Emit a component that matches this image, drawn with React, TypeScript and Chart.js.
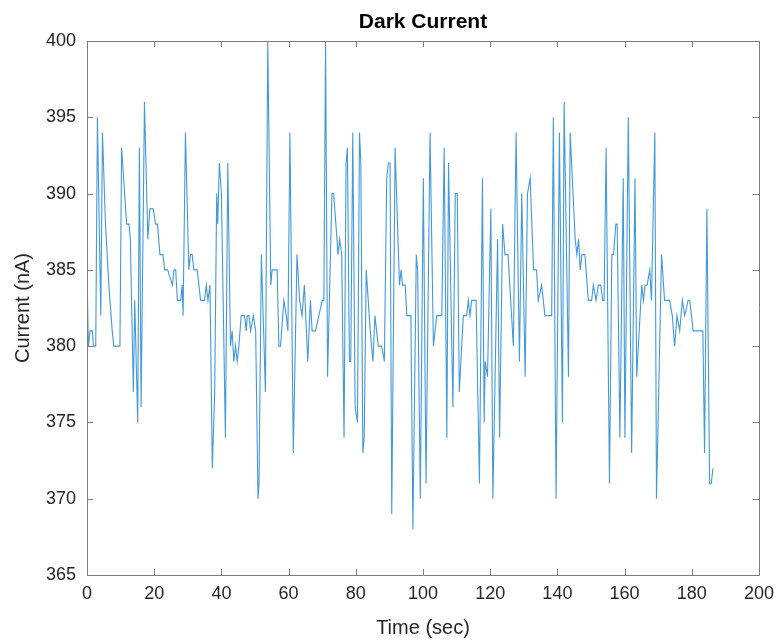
import React, { useEffect, useRef } from "react";
import { Chart, registerables } from "chart.js";

Chart.register(...registerables);

const times: number[] = [
  0, 0.4, 0.9, 1.6, 1.9, 2.6, 3.1, 4.1, 4.6, 5.5, 6.5, 7.5, 8.0, 9.8, 10.3, 11.8, 12.5, 12.9, 13.8, 14.2,
  15.1, 15.6, 16.1, 17.1, 18.1, 18.7, 19.7, 20.4, 21.0, 21.7, 22.6, 23.1, 24.0, 25.4, 25.9, 26.4, 26.9, 27.9, 28.3, 28.6,
  29.3, 30.3, 30.8, 31.3, 31.8, 32.8, 33.8, 35.0, 35.5, 36.0, 36.6, 37.3, 38.0, 38.6, 38.9, 39.4, 40.0, 41.2, 41.9, 42.7,
  43.2, 43.7, 44.2, 44.7, 45.2, 45.9, 46.9, 47.4, 47.7, 48.2, 48.7, 49.5, 50.2, 50.9, 51.2, 51.9, 53.1, 53.8, 54.7, 55.1,
  56.6, 57.1, 57.6, 58.6, 59.3, 59.8, 60.4, 61.4, 62.5, 63.3, 64.0, 64.7, 65.7, 66.5, 67.0, 68.0, 69.0, 70.0, 70.5, 71.0,
  71.6, 72.9, 73.4, 74.4, 74.7, 75.2, 75.8, 76.5, 77.1, 77.5, 78.1, 78.5, 79.1, 79.8, 80.5, 81.1, 81.5, 82.1, 82.5, 83.1,
  84.3, 85.1, 85.7, 86.2, 86.7, 87.7, 88.5, 89.2, 89.7, 90.2, 90.7, 91.7, 93.0, 93.5, 93.9, 94.7, 95.2, 96.4, 97.0, 98.0,
  98.4, 99.2, 100.1, 100.9, 102.1, 103.1, 104.1, 105.6, 106.3, 107.1, 107.6, 108.9, 109.6, 110.2, 110.8, 112.0, 113.0, 113.5, 114.0, 114.5,
  115.8, 116.8, 117.7, 118.2, 118.5, 119.2, 120.2, 120.8, 122.2, 122.8, 123.7, 124.4, 125.3, 126.9, 127.7, 128.7, 129.4, 130.4, 131.1, 131.9,
  132.9, 133.8, 134.3, 135.3, 136.3, 138.3, 138.8, 139.6, 140.6, 141.5, 142.0, 143.3, 143.8, 145.3, 145.8, 146.3, 146.8, 147.3, 148.2, 149.2,
  150.2, 150.7, 151.5, 152.2, 152.9, 153.5, 153.9, 154.5, 155.5, 156.2, 156.7, 157.4, 157.8, 158.6, 159.6, 160.1, 161.1, 162.1, 163.1, 163.6,
  165.1, 165.6, 166.1, 166.7, 167.5, 168.0, 169.0, 169.5, 171.0, 171.9, 173.4, 174.2, 174.9, 175.6, 176.4, 177.2, 177.9, 178.9, 179.4, 180.4,
  183.3, 183.8, 184.5, 185.3, 185.8, 186.3,
];

const currents: number[] = [
  385, 380, 381, 381, 380, 380, 395, 382, 394, 388, 384, 381, 380, 380, 393, 388, 388, 387, 377, 383,
  375, 393, 376, 396, 387, 389, 389, 388, 388, 386, 386, 385, 385, 384, 385, 385, 383, 383, 384, 382,
  394, 385, 386, 386, 385, 385, 383, 383, 384, 383, 384, 372, 377, 390, 388, 392, 390, 374, 392, 380,
  381, 379, 380, 379, 380, 382, 382, 381, 382, 382, 381, 382, 381, 370, 371, 386, 377, 400, 384, 385,
  385, 380, 380, 383, 382, 381, 394, 373, 386, 383, 382, 384, 379, 383, 381, 381, 382, 383, 383, 400,
  378, 390, 390, 387, 386, 387, 386, 374, 392, 393, 379, 379, 394, 376, 375, 394, 392, 373, 374, 385,
  381, 379, 382, 381, 380, 380, 379, 391, 392, 392, 369, 393, 384, 385, 384, 384, 382, 382, 368, 386,
  385, 370, 391, 371, 394, 380, 382, 382, 393, 374, 392, 376, 390, 390, 377, 382, 382, 383, 382, 383,
  383, 371, 391, 375, 379, 378, 389, 370, 387, 374, 388, 386, 386, 380, 394, 379, 390, 378, 390, 391,
  385, 385, 383, 384, 382, 382, 395, 370, 394, 375, 396, 378, 394, 387, 386, 387, 385, 386, 386, 383,
  383, 384, 383, 384, 384, 383, 383, 393, 371, 386, 386, 388, 388, 374, 391, 374, 395, 373, 391, 378,
  384, 383, 384, 384, 385, 383, 394, 370, 386, 383, 383, 382, 380, 382, 381, 383, 382, 383, 383, 381,
  381, 373, 389, 371, 371, 372,
];

const xTicks: number[] = [0, 20, 40, 60, 80, 100, 120, 140, 160, 180, 200];
const yTicks: number[] = [365, 370, 375, 380, 385, 390, 395, 400];

const chartTitle = "Dark Current";
const xLabel = "Time (sec)";
const yLabel = "Current (nA)";

const FONT = "'Liberation Sans', Arial, Helvetica, sans-serif";
const AXIS_COLOR = "#7d7d7d";
const TEXT_COLOR = "#262626";

const boxTicksPlugin = {
  id: "boxTicks",
  afterDraw(chart: any) {
    const { ctx, chartArea } = chart;
    const { left, right, top, bottom } = chartArea;
    const xs = chart.scales.x;
    const ys = chart.scales.y;
    const len = 6;
    ctx.save();
    ctx.strokeStyle = AXIS_COLOR;
    ctx.lineWidth = 1;
    ctx.beginPath();
    ctx.rect(Math.round(left) + 0.5, Math.round(top) + 0.5, Math.round(right - left), Math.round(bottom - top));
    ctx.stroke();
    ctx.beginPath();
    xTicks.forEach((v) => {
      const px = Math.round(xs.getPixelForValue(v)) + 0.5;
      ctx.moveTo(px, bottom);
      ctx.lineTo(px, bottom - len);
      ctx.moveTo(px, top);
      ctx.lineTo(px, top + len);
    });
    yTicks.forEach((v) => {
      const py = Math.round(ys.getPixelForValue(v)) + 0.5;
      ctx.moveTo(left, py);
      ctx.lineTo(left + len, py);
      ctx.moveTo(right, py);
      ctx.lineTo(right - len, py);
    });
    ctx.stroke();
    ctx.restore();
  },
};

export default function App() {
  const canvasRef = useRef<HTMLCanvasElement | null>(null);

  useEffect(() => {
    document.body.style.margin = "0";
    document.body.style.background = "#ffffff";
    const canvas = canvasRef.current;
    if (!canvas) return;
    const data = times.map((t, i) => ({ x: t, y: currents[i] }));
    const chart = new Chart(canvas, {
      type: "line",
      data: {
        datasets: [
          {
            data,
            borderColor: "rgb(66,154,216)",
            borderWidth: 1.1,
            pointRadius: 0,
            tension: 0,
            fill: false,
          },
        ],
      },
      options: {
        responsive: false,
        animation: false,
        layout: { padding: { left: 0, right: 22, top: 0, bottom: 0 } },
        plugins: {
          legend: { display: false },
          tooltip: { enabled: false },
          title: {
            display: true,
            text: chartTitle,
            fullSize: false,
            color: "#000000",
            font: { family: FONT, size: 21, weight: "bold", lineHeight: 1.2 },
            padding: { top: 10, bottom: 5.8 },
          },
        },
        scales: {
          x: {
            type: "linear",
            min: 0,
            max: 200,
            afterBuildTicks: (scale: any) => {
              scale.ticks = xTicks.map((v) => ({ value: v }));
            },
            afterFit: (scale: any) => {
              scale.height = 69;
            },
            grid: { display: false, drawTicks: false },
            border: { display: false },
            ticks: {
              color: TEXT_COLOR,
              font: { family: FONT, size: 18 },
              padding: 8,
              maxRotation: 0,
              autoSkip: false,
            },
            title: {
              display: true,
              text: xLabel,
              color: TEXT_COLOR,
              font: { family: FONT, size: 20 },
              padding: { top: 0, bottom: 4 },
            },
          },
          y: {
            type: "linear",
            min: 365,
            max: 400,
            afterBuildTicks: (scale: any) => {
              scale.ticks = yTicks.map((v) => ({ value: v }));
            },
            afterFit: (scale: any) => {
              scale.width = 87;
            },
            grid: { display: false, drawTicks: false },
            border: { display: false },
            ticks: {
              color: TEXT_COLOR,
              font: { family: FONT, size: 18 },
              padding: 11,
              autoSkip: false,
            },
            title: {
              display: true,
              text: yLabel,
              color: TEXT_COLOR,
              font: { family: FONT, size: 20 },
              padding: { top: 11, bottom: 0 },
            },
          },
        },
      },
      plugins: [boxTicksPlugin],
    });
    return () => {
      chart.destroy();
    };
  }, []);

  return (
    <div style={{ width: 782, height: 644, background: "#ffffff" }}>
      <canvas ref={canvasRef} width={782} height={644} style={{ display: "block" }} />
    </div>
  );
}
